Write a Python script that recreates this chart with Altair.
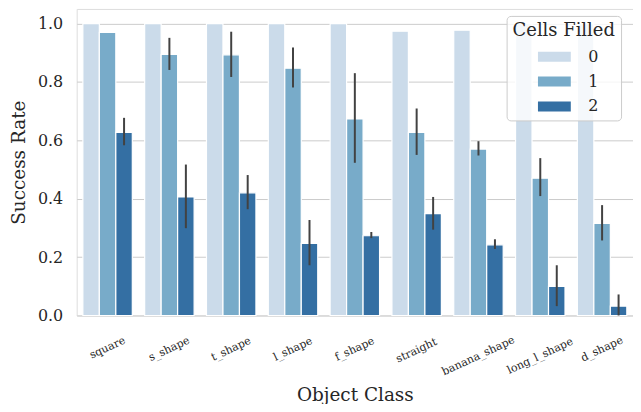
import altair as alt
import pandas as pd

classes = ["square", "s_shape", "t_shape", "l_shape", "f_shape",
           "straight", "banana_shape", "long_l_shape", "d_shape"]
cells = ["0", "1", "2"]

rate0 = [1.0, 1.0, 1.0, 1.0, 1.0, 0.974, 0.977, 1.0, 1.0]
rate1 = [0.970, 0.894, 0.893, 0.847, 0.673, 0.627, 0.570, 0.470, 0.315]
lo1 = [0.970, 0.841, 0.817, 0.781, 0.523, 0.550, 0.548, 0.409, 0.257]
hi1 = [0.970, 0.951, 0.972, 0.918, 0.830, 0.709, 0.597, 0.539, 0.378]
rate2 = [0.627, 0.406, 0.420, 0.247, 0.273, 0.349, 0.242, 0.100, 0.032]
lo2 = [0.583, 0.299, 0.364, 0.172, 0.265, 0.294, 0.228, 0.032, 0.000]
hi2 = [0.677, 0.517, 0.481, 0.327, 0.286, 0.406, 0.261, 0.172, 0.072]

colors = ["#cbdbea", "#78abc9", "#346fa3"]

rows = []
for i, c in enumerate(classes):
    rows.append({"cls": c, "cells": "0", "rate": rate0[i], "lo": rate0[i], "hi": rate0[i]})
    rows.append({"cls": c, "cells": "1", "rate": rate1[i], "lo": lo1[i], "hi": hi1[i]})
    rows.append({"cls": c, "cells": "2", "rate": rate2[i], "lo": lo2[i], "hi": hi2[i]})
df = pd.DataFrame(rows)

FONT = "DejaVu Serif"
TXT = "#262626"

xenc = alt.X(
    "cls:N", sort=classes, title="Object Class",
    scale=alt.Scale(paddingInner=0.2, paddingOuter=0.1),
    axis=alt.Axis(
        labelAngle=-25, labelAlign="center", labelBaseline="middle",
        labelPadding={"expr": "24 + 1.37 * length(datum.label)"},
        labelFontSize=11, labelFont=FONT, labelColor=TXT, labelOverlap=False,
        ticks=False, domain=False, grid=False,
        titleFontSize=18.5, titleFont=FONT, titleColor=TXT, titleFontWeight="normal",
        titleBaseline="alphabetic", titleY=85,
    ),
)
xoff = alt.XOffset("cells:N", sort=cells, scale=alt.Scale(paddingInner=0, paddingOuter=0))

bars = alt.Chart(df).mark_bar(stroke="white", strokeWidth=1.2).encode(
    x=xenc,
    xOffset=xoff,
    y=alt.Y(
        "rate:Q", title="Success Rate",
        scale=alt.Scale(domain=[0, 1.05], nice=False),
        axis=alt.Axis(
            values=[0, 0.2, 0.4, 0.6, 0.8, 1.0], format=".1f",
            labelFontSize=16, labelFont=FONT, labelColor=TXT, labelPadding=14,
            ticks=False, domain=False, grid=True, gridColor="#cccccc", gridWidth=1,
            titleFontSize=18.5, titleFont=FONT, titleColor=TXT, titleFontWeight="normal",
            titlePadding=9,
        ),
    ),
    color=alt.Color(
        "cells:N", sort=cells,
        scale=alt.Scale(domain=cells, range=colors),
        legend=alt.Legend(
            title="Cells Filled", orient="none", legendX=432, legendY=7,
            titleFontSize=18, titleFont=FONT, titleColor=TXT, titleFontWeight="normal",
            titlePadding=9,
            labelFontSize=16, labelFont=FONT, labelColor=TXT,
            fillColor="rgba(255,255,255,0.8)", strokeColor="#cccccc",
            cornerRadius=4, padding=6,
            symbolType="M-3.3,-1H3.3V1H-3.3Z", symbolSize=100,
            symbolOffset=34, labelOffset=26, rowPadding=9,
            symbolStrokeWidth=0, symbolOpacity=1,
        ),
    ),
)

errs = alt.Chart(df).transform_filter("datum.hi > datum.lo").mark_rule(
    color="#424242", strokeWidth=2
).encode(
    x=alt.X("cls:N", sort=classes),
    xOffset=xoff,
    y=alt.Y("lo:Q"),
    y2="hi:Q",
)

chart = (bars + errs).properties(
    width=559, height=308,
    autosize=alt.AutoSizeParams(type="none"),
    padding={"left": 69, "top": 0, "right": 0, "bottom": 88},
).configure_view(
    stroke="#cccccc", strokeWidth=1.25
).configure(background="white", font=FONT)

chart.save("out.html", embed_options={"renderer": "svg", "actions": False})
